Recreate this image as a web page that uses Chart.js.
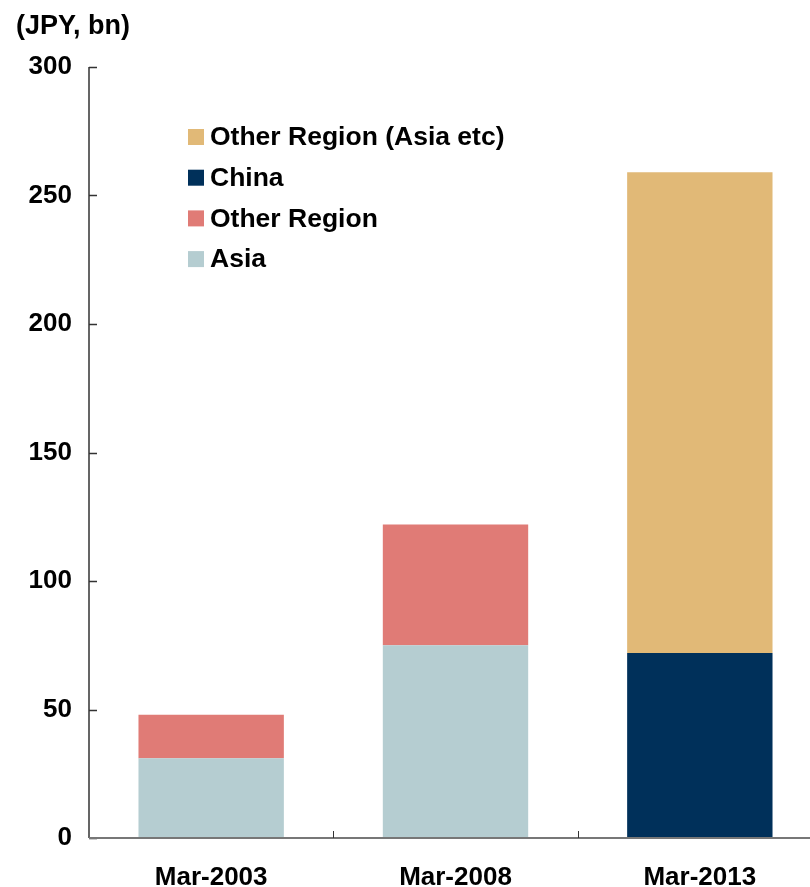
<!DOCTYPE html>
<html><head><meta charset="utf-8">
<script src="https://cdn.jsdelivr.net/npm/chart.js@4/dist/chart.umd.min.js"></script>
<style>html,body{margin:0;padding:0;background:#fff;overflow:hidden}#wrap{width:810px;height:887px;overflow:hidden}</style>
</head><body><div id="wrap"><canvas id="c" width="822" height="887"></canvas></div>
<script>
const categories = ["Mar-2003", "Mar-2008", "Mar-2013"];
const asia = [31, 75, null];
const otherRegion = [17, 47, null];
const china = [null, null, 72];
const otherRegionAsiaEtc = [null, null, 187];
const yTicks = [0, 50, 100, 150, 200, 250, 300];
const unitLabel = "(JPY, bn)";

const FONT = "'Liberation Sans', Arial, sans-serif";

const decor = {
  id: 'decor',
  afterDraw(chart) {
    const ctx = chart.ctx, ca = chart.chartArea;
    const y = chart.scales.y, x = chart.scales.x;
    ctx.save();
    ctx.font = "bold 27px " + FONT;
    ctx.fillStyle = "#000";
    ctx.textBaseline = "middle";
    ctx.textAlign = "left";
    ctx.fillText(unitLabel, 16, 27);
    ctx.strokeStyle = "#333";
    ctx.lineWidth = 1.5;
    ctx.beginPath();
    ctx.moveTo(ca.left, y.getPixelForValue(300));
    ctx.lineTo(ca.left, ca.bottom);
    yTicks.forEach(v => {
      const py = Math.round(y.getPixelForValue(v)) + 0.5;
      ctx.moveTo(ca.left, py);
      ctx.lineTo(ca.left + 8, py);
    });
    ctx.stroke();
    ctx.strokeStyle = "#777";
    ctx.lineWidth = 2;
    ctx.beginPath();
    ctx.moveTo(ca.left, ca.bottom);
    ctx.lineTo(ca.right, ca.bottom);
    ctx.stroke();
    ctx.strokeStyle = "#333";
    ctx.lineWidth = 1;
    ctx.beginPath();
    for (let i = 1; i < categories.length; i++) {
      const px = Math.round((x.getPixelForValue(i - 1) + x.getPixelForValue(i)) / 2) + 0.5;
      ctx.moveTo(px, ca.bottom);
      ctx.lineTo(px, ca.bottom - 7);
    }
    ctx.stroke();
    const ds = chart.data.datasets.slice().reverse();
    ctx.font = "bold 26.5px " + FONT;
    ds.forEach((d, i) => {
      const cy = 137 + i * 40.7;
      ctx.fillStyle = d.backgroundColor;
      ctx.fillRect(188, cy - 8, 16, 16);
      ctx.fillStyle = "#000";
      ctx.textAlign = "left";
      ctx.textBaseline = "middle";
      ctx.fillText(d.label, 210, cy + 1);
    });
    ctx.restore();
  }
};

new Chart(document.getElementById('c'), {
  type: 'bar',
  data: {
    labels: categories,
    datasets: [
      { label: 'Asia', data: asia, backgroundColor: '#B5CDD1' },
      { label: 'Other Region', data: otherRegion, backgroundColor: '#E07B76' },
      { label: 'China', data: china, backgroundColor: '#00305A' },
      { label: 'Other Region (Asia etc)', data: otherRegionAsiaEtc, backgroundColor: '#E1B977' }
    ]
  },
  options: {
    responsive: false,
    animation: false,
    layout: { padding: { top: 67, right: 0, left: 0, bottom: 0 } },
    datasets: { bar: { categoryPercentage: 0.595, barPercentage: 1.0 } },
    plugins: { legend: { display: false }, tooltip: { enabled: false }, title: { display: false } },
    scales: {
      x: {
        stacked: true,
        grid: { display: false },
        border: { display: false },
        ticks: { color: '#000', font: { family: FONT, size: 26, weight: 'bold' }, padding: 16, maxRotation: 0 },
        afterFit(s) { s.height = 49; }
      },
      y: {
        stacked: true,
        min: 0, max: 300,
        afterBuildTicks(s) { s.ticks = yTicks.map(v => ({ value: v })); },
        grid: { display: false },
        border: { display: false },
        ticks: { color: '#000', font: { family: FONT, size: 26, weight: 'bold' }, padding: 9 },
        afterFit(s) { s.width = 89; }
      }
    }
  },
  plugins: [decor]
});
</script></body></html>
